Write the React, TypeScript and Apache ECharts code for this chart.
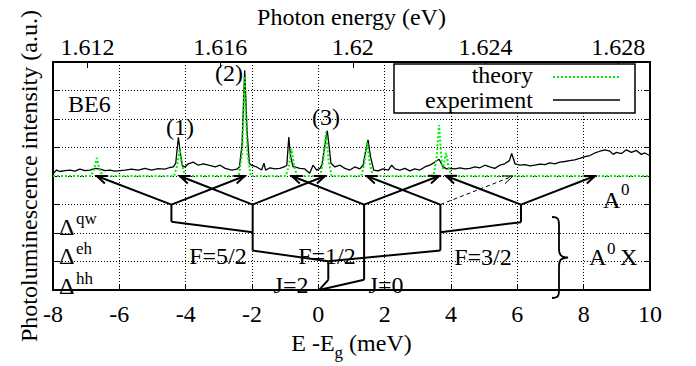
import React, { useEffect, useRef } from 'react';
import * as echarts from 'echarts';

const FONT = "'Liberation Serif', 'Times New Roman', Times, 'DejaVu Serif', serif";
const EG = 1.61896; // band gap (eV), E - Eg = 0
const photonTicks = [1.612, 1.616, 1.62, 1.624, 1.628];

// measured photoluminescence (x: E-Eg in meV, y: intensity a.u.)
const experiment: [number, number][] = [
  [-7.99, 4.1], [-7.89, 4.21], [-7.79, 4.16], [-7.64, 4.19], [-7.49, 4.21], [-7.34, 4.17], [-7.19, 4.24],
  [-7.04, 4.19], [-6.88, 4.21], [-6.73, 4.27], [-6.58, 4.24], [-6.43, 4.19], [-6.28, 4.21], [-6.13, 4.17],
  [-5.98, 4.19], [-5.83, 4.21], [-5.63, 4.24], [-5.43, 4.21], [-5.23, 4.27], [-5.03, 4.21], [-4.83, 4.26],
  [-4.63, 4.24], [-4.48, 4.3], [-4.37, 4.32], [-4.3, 4.45], [-4.22, 5.36], [-4.16, 4.8], [-4.1, 4.36],
  [-4.02, 4.32], [-3.92, 4.43], [-3.77, 4.49], [-3.62, 4.38], [-3.46, 4.43], [-3.31, 4.38], [-3.11, 4.32],
  [-2.96, 4.38], [-2.81, 4.27], [-2.61, 4.21], [-2.46, 4.24], [-2.38, 4.32], [-2.3, 5.1], [-2.22, 7.71],
  [-2.15, 5.6], [-2.08, 4.45], [-2.02, 4.38], [-1.86, 4.32], [-1.71, 4.21], [-1.64, 4.45], [-1.59, 4.21],
  [-1.46, 4.29], [-1.31, 4.25], [-1.16, 4.27], [-1.03, 4.32], [-0.95, 4.38], [-0.89, 5.37], [-0.84, 4.7],
  [-0.76, 4.32], [-0.71, 4.32], [-0.56, 4.27], [-0.41, 4.25], [-0.26, 4.1], [-0.16, 4.38], [-0.05, 4.21],
  [0.05, 4.27], [0.11, 4.39], [0.2, 5.1], [0.27, 5.59], [0.33, 5.0], [0.38, 4.45], [0.5, 4.32], [0.65, 4.38],
  [0.8, 4.27], [0.95, 4.21], [1.1, 4.32], [1.25, 4.25], [1.35, 4.38], [1.43, 4.9], [1.5, 5.27], [1.57, 4.7],
  [1.67, 4.21], [1.8, 4.18], [1.95, 4.25], [2.11, 4.21], [2.21, 4.38], [2.31, 4.25], [2.46, 4.21], [2.61, 4.27],
  [2.76, 4.18], [2.91, 4.25], [3.06, 4.21], [3.21, 4.32], [3.36, 4.38], [3.51, 4.49], [3.64, 4.59], [3.76, 4.32],
  [3.87, 4.25], [3.97, 4.27], [4.12, 4.25], [4.27, 4.29], [4.42, 4.25], [4.57, 4.27], [4.72, 4.32], [4.87, 4.29],
  [5.02, 4.38], [5.17, 4.32], [5.32, 4.27], [5.47, 4.38], [5.62, 4.43], [5.76, 4.54], [5.83, 4.79], [5.93, 4.43],
  [6.08, 4.38], [6.23, 4.4], [6.38, 4.36], [6.53, 4.38], [6.68, 4.42], [6.83, 4.4], [6.98, 4.46], [7.13, 4.43],
  [7.28, 4.49], [7.43, 4.51], [7.58, 4.54], [7.73, 4.57], [7.88, 4.62], [8.04, 4.68], [8.19, 4.72], [8.34, 4.81],
  [8.49, 4.87], [8.64, 4.92], [8.79, 4.87], [8.89, 4.76], [8.99, 4.83], [9.14, 4.79], [9.29, 4.92], [9.44, 4.83],
  [9.59, 4.9], [9.74, 4.76], [9.84, 4.81], [9.99, 4.72],
];

// theoretical spectrum
const theory: [number, number][] = [
  [-8, 4], [-6.85, 4], [-6.76, 4.25], [-6.68, 4.63], [-6.6, 4.25], [-6.51, 4],
  [-4.35, 4], [-4.26, 4.35], [-4.18, 4.92], [-4.1, 4.35], [-4.01, 4],
  [-2.4, 4], [-2.3, 4.8], [-2.22, 7.5], [-2.14, 4.8], [-2.04, 4],
  [-0.98, 4], [-0.89, 4.35], [-0.81, 4.95], [-0.73, 4.35], [-0.64, 4],
  [0.06, 4], [0.15, 4.55], [0.23, 5.55], [0.31, 4.55], [0.4, 4],
  [1.3, 4], [1.39, 4.45], [1.47, 5.2], [1.55, 4.45], [1.64, 4],
  [3.47, 4], [3.56, 4.6], [3.64, 5.79], [3.72, 4.5], [3.76, 4.25], [3.85, 4.81], [3.93, 4.3], [4.02, 4],
  [10, 4],
];

// level scheme (polylines)
const levelPaths: [number, number][][] = [
  [[-4.43, 3], [-4.43, 2.4], [-1.98, 2.03]],
  [[-1.98, 3], [-1.98, 1.39], [0.3, 1.01], [0.3, 0.36], [0.02, 0], [1.38, 0.36], [1.38, 3]],
  [[0.3, 1.01], [3.68, 1.39], [3.68, 3]],
  [[3.68, 2.03], [6.11, 2.38], [6.11, 3]],
];

// optical transitions: [x0, y0, x1, y1]
const transitions: [number, number, number, number][] = [
  [-4.43, 3, -6.68, 4], [-4.43, 3, -2.22, 4],
  [-1.98, 3, -4.18, 4], [-1.98, 3, 0.2, 4],
  [1.38, 3, -0.8, 4], [1.38, 3, 3.64, 4],
  [3.68, 3, 1.46, 4],
  [6.11, 3, 3.85, 4], [6.11, 3, 8.34, 4],
];
const forbidden: [number, number, number, number][] = [[3.68, 3, 5.87, 4]];

const BRACE = 'M0,0 C6,0 7,2 7,8 L7,32 C7,38 9,40 16,40.5 C9,41 7,43 7,49 L7,73 C7,79 6,81 0,81';
echarts.graphic.registerShape('brace', (echarts.graphic as any).extendPath(BRACE, {}));

const txt = (x: number, y: number, text: string, opts: any = {}) => ({
  type: 'text',
  x,
  y,
  z: 100,
  style: {
    text,
    fontFamily: FONT,
    fontSize: opts.size || 24,
    fill: '#000',
    align: opts.align || 'left',
    textAlign: opts.align || 'left',
    verticalAlign: 'middle',
    textVerticalAlign: 'middle',
  },
});

export default function App() {
  const ref = useRef<HTMLDivElement>(null);
  useEffect(() => {
    if (!ref.current) return;
    const chart = echarts.init(ref.current, undefined, { renderer: 'svg' });

    const segData: number[][] = [];
    levelPaths.forEach((p) => {
      for (let i = 0; i < p.length - 1; i++) segData.push([p[i][0], p[i][1], p[i + 1][0], p[i + 1][1], 0]);
    });
    transitions.forEach((t) => segData.push([...t, 1]));
    forbidden.forEach((t) => segData.push([...t, 2]));

    const splitStyle = { show: true, lineStyle: { color: '#000', width: 1, type: [1, 2] as any } };
    const axisLineStyle = { show: true, onZero: false, lineStyle: { color: '#000', width: 2 } };
    const tickStyle = { show: true, inside: true, length: 6, lineStyle: { color: '#000', width: 1 } };

    chart.setOption({
      animation: false,
      grid: { left: 53, right: 46, top: 57, bottom: 63 },
      xAxis: [
        {
          type: 'value',
          position: 'bottom',
          min: -8,
          max: 10,
          interval: 2,
          axisLine: axisLineStyle,
          axisTick: tickStyle,
          splitLine: splitStyle,
          axisLabel: { fontFamily: FONT, fontSize: 24, color: '#000', margin: 12 },
          name: '{n|E -E}{s|g}{n| (meV)}',
          nameLocation: 'middle',
          nameGap: 39,
          nameTextStyle: {
            fontFamily: FONT,
            fontSize: 24,
            color: '#000',
            rich: {
              n: { fontFamily: FONT, fontSize: 24, color: '#000', lineHeight: 30, verticalAlign: 'top' },
              s: { fontFamily: FONT, fontSize: 17, color: '#000', lineHeight: 18, verticalAlign: 'bottom' },
            },
          },
        },
        {
          type: 'value',
          position: 'top',
          min: EG - 0.008,
          max: EG + 0.01,
          axisLine: axisLineStyle,
          axisTick: { ...tickStyle, customValues: photonTicks },
          splitLine: { show: false },
          axisLabel: {
            fontFamily: FONT,
            fontSize: 24,
            color: '#000',
            margin: 3,
            customValues: photonTicks,
            formatter: (v: number) => String(parseFloat(Number(v).toFixed(3))),
          },
          name: 'Photon energy (eV)',
          nameLocation: 'middle',
          nameGap: 33,
          nameTextStyle: { fontFamily: FONT, fontSize: 24, color: '#000' },
        },
      ],
      yAxis: [
        {
          type: 'value',
          position: 'left',
          min: 0,
          max: 8,
          interval: 1,
          axisLine: axisLineStyle,
          axisTick: tickStyle,
          splitLine: splitStyle,
          axisLabel: { show: false },
          name: 'Photoluminescence intensity (a.u.)',
          nameLocation: 'middle',
          nameGap: 12,
          nameTextStyle: { fontFamily: FONT, fontSize: 24, color: '#000' },
        },
        {
          type: 'value',
          position: 'right',
          min: 0,
          max: 8,
          interval: 1,
          axisLine: axisLineStyle,
          axisTick: tickStyle,
          splitLine: { show: false },
          axisLabel: { show: false },
        },
      ],
      series: [
        {
          name: 'experiment',
          type: 'line',
          data: experiment,
          showSymbol: false,
          lineStyle: { color: '#000', width: 1.3 },
          z: 3,
        },
        {
          name: 'theory',
          type: 'line',
          data: theory,
          showSymbol: false,
          lineStyle: { color: '#00ee00', width: 2, type: [2, 2] as any },
          z: 4,
        },
        {
          name: 'scheme',
          type: 'custom',
          data: segData,
          encode: { x: [0, 2], y: [1, 3] },
          z: 5,
          renderItem: (params: any, api: any) => {
            const a = api.coord([api.value(0), api.value(1)]);
            const b = api.coord([api.value(2), api.value(3)]);
            const kind = api.value(4);
            const dashed = kind === 2;
            const style: any = {
              stroke: '#000',
              lineWidth: dashed ? 1 : 2,
              fill: null,
              lineDash: dashed ? [4, 3] : null,
            };
            const children: any[] = [
              { type: 'line', shape: { x1: a[0], y1: a[1], x2: b[0], y2: b[1] }, style },
            ];
            if (kind > 0) {
              const ang = Math.atan2(b[1] - a[1], b[0] - a[0]);
              const L = 11;
              const w = 0.38;
              const p1 = [b[0] - L * Math.cos(ang - w), b[1] - L * Math.sin(ang - w)];
              const p2 = [b[0] - L * Math.cos(ang + w), b[1] - L * Math.sin(ang + w)];
              children.push({
                type: 'polyline',
                shape: { points: [p1, [b[0], b[1]], p2] },
                style: { ...style, lineDash: null },
              });
            }
            return { type: 'group', children };
          },
        },
      ],
      graphic: {
        elements: [
          txt(68, 104, 'BE6'),
          txt(180, 127, '(1)', { align: 'center' }),
          txt(229, 73, '(2)', { align: 'center' }),
          txt(326, 117, '(3)', { align: 'center' }),
          txt(59, 227, 'Δ'),
          txt(76, 218, 'qw', { size: 17 }),
          txt(59, 256, 'Δ'),
          txt(76, 248, 'eh', { size: 17 }),
          txt(59, 286, 'Δ'),
          txt(76, 278, 'hh', { size: 17 }),
          txt(218, 256, 'F=5/2', { align: 'center' }),
          txt(327, 256, 'F=1/2', { align: 'center' }),
          txt(483, 257, 'F=3/2', { align: 'center' }),
          txt(291, 285, 'J=2', { align: 'center' }),
          txt(386, 285, 'J=0', { align: 'center' }),
          txt(603, 200, 'A'),
          txt(621, 189, '0', { size: 17 }),
          {
            type: 'brace',
            z: 100,
            x: 552,
            y: 217,
            style: { fill: 'none', stroke: '#000', lineWidth: 1.8 },
          },
          txt(589, 257, 'A'),
          txt(607, 248, '0', { size: 17 }),
          txt(620, 257, 'X'),
          {
            type: 'rect',
            z: 90,
            shape: { x: 394, y: 64, width: 241, height: 49 },
            style: { fill: '#fff', stroke: '#000', lineWidth: 1.5 },
          },
          txt(533, 75, 'theory', { align: 'right' }),
          txt(533, 100, 'experiment', { align: 'right' }),
          {
            type: 'line',
            z: 100,
            shape: { x1: 553, y1: 77, x2: 620, y2: 77 },
            style: { stroke: '#00ee00', lineWidth: 2, lineDash: [2, 2] },
          },
          {
            type: 'line',
            z: 100,
            shape: { x1: 553, y1: 100, x2: 620, y2: 100 },
            style: { stroke: '#000', lineWidth: 1.5 },
          },
        ],
      },
    });
    return () => chart.dispose();
  }, []);
  return <div ref={ref} style={{ position: 'absolute', left: 0, top: 0, width: 696, height: 366 }} />;
}
